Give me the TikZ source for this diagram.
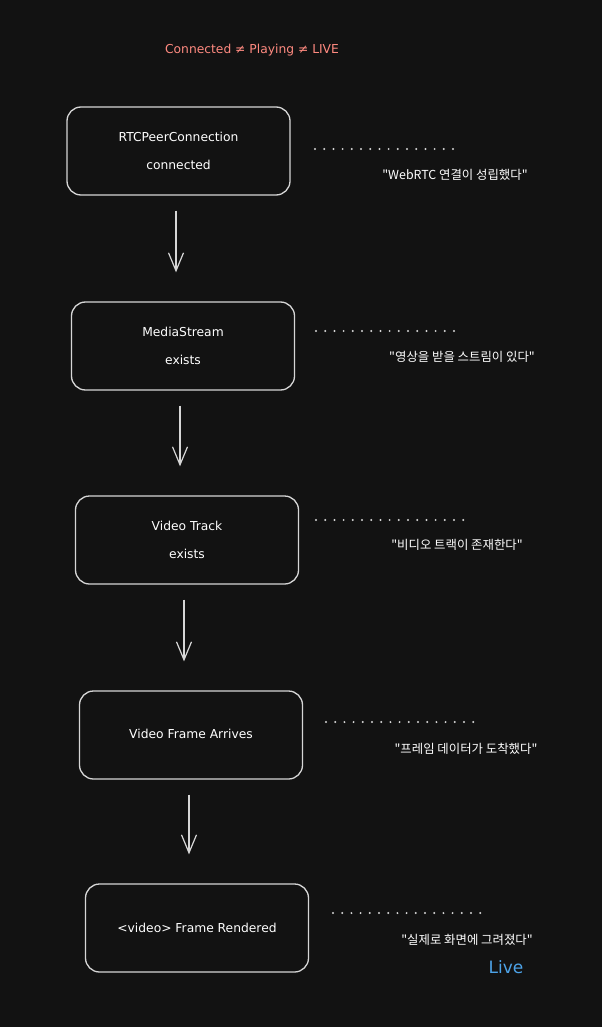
\documentclass[tikz,border=0pt]{standalone}
\usepackage{fontspec}
\setmainfont{DejaVu Sans}
\newfontfamily\krfont{Noto Sans CJK KR}
\usetikzlibrary{arrows.meta}
\definecolor{bg}{HTML}{121212}
\definecolor{edge}{HTML}{D6D6D6}
\definecolor{salmon}{HTML}{FF8A80}
\definecolor{livecol}{HTML}{4DA3E8}
\tikzstyle{stage} = [draw=edge, line width=1.3pt, rounded corners=14pt, minimum width=223pt, minimum height=88pt, text=white, align=center, font=\fontsize{12.3}{28}\selectfont]
\tikzstyle{line} = [draw=edge, line width=1.2pt, -{Straight Barb[length=18pt,width=15pt]}, shorten <=15pt, shorten >=29pt]
\tikzstyle{dots} = [draw=edge, line width=2.2pt, line cap=round, dash pattern=on 0pt off 9.2pt]
\tikzstyle{note} = [text=white, font=\krfont\fontsize{12.4}{14}\selectfont]

\begin{document}
\begin{tikzpicture}[x=1pt, y=-1pt]
		\fill[bg] (0, 0) rectangle (602, 1027);
		\node[text=salmon, font=\fontsize{12.3}{14}\selectfont] (title) at (252, 50) {Connected ≠ Playing ≠ LIVE};

		\node[stage] (b1) at (178.5, 151) {RTCPeerConnection\\connected};
		\node[stage] (b2) at (183, 346) {MediaStream\\exists};
		\node[stage] (b3) at (187, 540) {Video Track\\exists};
		\node[stage] (b4) at (191, 735) {\raisebox{3pt}{Video Frame Arrives}};
		\node[stage] (b5) at (197, 928) {<video> Frame Rendered};

		\path [line] ([xshift=-2.5pt]b1.south) -- ([xshift=-2.5pt]b1.south |- b2.north);
		\path [line] ([xshift=-3pt]b2.south) -- ([xshift=-3pt]b2.south |- b3.north);
		\path [line] ([xshift=-3pt]b3.south) -- ([xshift=-3pt]b3.south |- b4.north);
		\path [line] ([xshift=-2pt]b4.south) -- ([xshift=-2pt]b4.south |- b5.north);

		\coordinate (d1a) at (315, 149);
		\coordinate (d1b) at (462, 149);
		\coordinate (d2a) at (316, 331);
		\coordinate (d2b) at (458, 331);
		\coordinate (d3a) at (316, 520);
		\coordinate (d3b) at (466, 520);
		\coordinate (d4a) at (326, 722);
		\coordinate (d4b) at (475, 722);
		\coordinate (d5a) at (333, 913);
		\coordinate (d5b) at (481, 913);
		\draw[dots] (d1a) -- (d1b);
		\draw[dots] (d2a) -- (d2b);
		\draw[dots] (d3a) -- (d3b);
		\draw[dots] (d4a) -- (d4b);
		\draw[dots] (d5a) -- (d5b);

		\node[note] (n1) at (455, 175) {"WebRTC 연결이 성립했다"};
		\node[note] (n2) at (462, 357) {"영상을 받을 스트림이 있다"};
		\node[note] (n3) at (457, 545) {"비디오 트랙이 존재한다"};
		\node[note] (n4) at (466, 749) {"프레임 데이터가 도착했다"};
		\node[note] (n5) at (467, 940) {"실제로 화면에 그려졌다"};
		\node[text=livecol, font=\fontsize{17}{19}\selectfont] (live) at (506, 967) {Live};
	\end{tikzpicture}
\end{document}
